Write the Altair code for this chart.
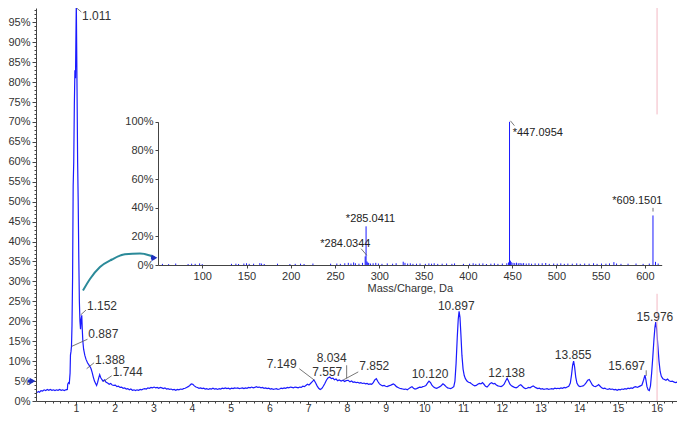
import altair as alt
import pandas as pd

# ---------------- chromatogram (retention time, % intensity) ----------------
rt = [0.00, 0.03, 0.06, 0.10, 0.14, 0.18, 0.22, 0.26, 0.30, 0.34, 0.38, 0.42, 0.46, 0.50, 0.54, 0.58, 0.62, 0.66, 0.70, 0.74, 0.78,
      0.79, 0.81, 0.83, 0.85, 0.86, 0.875, 0.887, 0.90, 0.915, 0.93, 0.945, 0.96, 0.975, 0.99, 1.011, 1.03, 1.045, 1.06, 1.075, 1.09,
      1.105, 1.12, 1.135, 1.152, 1.165, 1.18, 1.20, 1.23, 1.26, 1.30, 1.34, 1.388, 1.42, 1.45, 1.48, 1.51, 1.535, 1.56, 1.59, 1.615,
      1.64, 1.67, 1.70, 1.744, 1.78, 1.82, 1.86, 1.90, 1.94, 1.98, 2.02, 2.06, 2.10, 2.14, 2.18, 2.22, 2.26, 2.30, 2.34, 2.38, 2.42,
      2.46, 2.50, 2.54, 2.58, 2.62, 2.66, 2.70, 2.74, 2.78, 2.82, 2.86, 2.90, 2.94, 2.98, 3.02, 3.06, 3.10, 3.14, 3.18, 3.22, 3.26,
      3.30, 3.34, 3.38, 3.42, 3.46, 3.50, 3.54, 3.58, 3.62, 3.66, 3.70, 3.74, 3.78, 3.82, 3.86, 3.90, 3.94, 3.98, 4.02, 4.06, 4.10,
      4.14, 4.18, 4.22, 4.26, 4.30, 4.34, 4.38, 4.42, 4.46, 4.50, 4.54, 4.58, 4.62, 4.66, 4.70, 4.74, 4.78, 4.82, 4.86, 4.90, 4.94,
      4.98, 5.02, 5.06, 5.10, 5.14, 5.18, 5.22, 5.26, 5.30, 5.34, 5.38, 5.42, 5.46, 5.50, 5.54, 5.58, 5.62, 5.66, 5.70, 5.74, 5.78,
      5.82, 5.86, 5.90, 5.94, 5.98, 6.02, 6.06, 6.10, 6.14, 6.18, 6.22, 6.26, 6.30, 6.34, 6.38, 6.42, 6.46, 6.50, 6.54, 6.58, 6.62,
      6.66, 6.70, 6.74, 6.78, 6.82, 6.86, 6.90, 6.94, 6.98, 7.02, 7.06, 7.10, 7.149, 7.19, 7.23, 7.27, 7.31, 7.35, 7.39, 7.43, 7.47,
      7.51, 7.557, 7.60, 7.64, 7.68, 7.72, 7.76, 7.80, 7.852, 7.90, 7.94, 7.98, 8.034, 8.08, 8.12, 8.16, 8.20, 8.24, 8.28, 8.32, 8.36,
      8.40, 8.44, 8.48, 8.52, 8.56, 8.60, 8.64, 8.68, 8.72, 8.76, 8.80, 8.84, 8.88, 8.92, 8.96, 9.00, 9.04, 9.08, 9.12, 9.16, 9.20,
      9.24, 9.28, 9.32, 9.36, 9.40, 9.44, 9.48, 9.52, 9.56, 9.60, 9.64, 9.68, 9.72, 9.76, 9.80, 9.84, 9.88, 9.92, 9.96, 10.00, 10.04,
      10.08, 10.12, 10.16, 10.20, 10.24, 10.28, 10.32, 10.36, 10.40, 10.44, 10.48, 10.52, 10.56, 10.60, 10.64, 10.68, 10.72, 10.76,
      10.79, 10.82, 10.85, 10.875, 10.897, 10.92, 10.945, 10.97, 11.00, 11.03, 11.06, 11.10, 11.14, 11.18, 11.22, 11.26, 11.30, 11.34,
      11.38, 11.42, 11.46, 11.50, 11.54, 11.58, 11.62, 11.66, 11.70, 11.74, 11.78, 11.82, 11.86, 11.90, 11.94, 11.98, 12.02, 12.06,
      12.10, 12.138, 12.17, 12.21, 12.25, 12.29, 12.33, 12.37, 12.41, 12.45, 12.49, 12.53, 12.57, 12.61, 12.65, 12.69, 12.73, 12.77,
      12.81, 12.85, 12.89, 12.93, 12.97, 13.01, 13.05, 13.09, 13.13, 13.17, 13.21, 13.25, 13.29, 13.33, 13.37, 13.41, 13.45, 13.49,
      13.53, 13.57, 13.61, 13.65, 13.69, 13.73, 13.77, 13.80, 13.83, 13.855, 13.88, 13.91, 13.94, 13.98, 14.02, 14.06, 14.10, 14.14,
      14.18, 14.22, 14.26, 14.30, 14.34, 14.38, 14.42, 14.46, 14.50, 14.54, 14.58, 14.62, 14.66, 14.70, 14.74, 14.78, 14.82, 14.86,
      14.90, 14.94, 14.98, 15.02, 15.06, 15.10, 15.14, 15.18, 15.22, 15.26, 15.30, 15.34, 15.38, 15.42, 15.46, 15.50, 15.54, 15.58,
      15.62, 15.66, 15.697, 15.72, 15.75, 15.78, 15.81, 15.84, 15.87, 15.90, 15.93, 15.955, 15.976, 16.00, 16.03, 16.06, 16.09, 16.12,
      16.16, 16.20, 16.24, 16.28, 16.32, 16.36, 16.40, 16.44, 16.48, 16.52, 16.56, 16.60, 16.64, 16.68, 16.73]
intensity = [2.1, 2.4, 2.2, 2.6, 2.5, 2.8, 2.6, 2.9, 2.7, 2.9, 2.7, 2.8, 2.6, 2.8, 2.7, 2.9, 2.7, 2.8, 2.6, 2.8, 2.9,
             4.2, 4.6, 4.4, 7.0, 11.5, 12.5, 13.8, 19.0, 31.0, 54.0, 60.0, 74.0, 83.0, 81.0, 100.0, 78.0, 60.0, 50.0, 36.0, 25.0,
             20.0, 18.0, 20.5, 21.5, 18.0, 15.0, 13.0, 11.5, 10.5, 9.6, 9.0, 8.2, 7.2, 6.0, 5.0, 4.4, 3.9, 4.6, 5.8, 6.6,
             5.9, 5.4, 5.0, 5.3, 4.7, 4.5, 4.2, 4.4, 4.0, 3.9, 4.0, 3.6, 3.7, 3.4, 3.5, 3.2, 3.3, 3.0, 3.1, 2.8, 3.0,
             2.7, 2.8, 2.6, 2.8, 2.7, 2.9, 2.8, 3.0, 3.1, 3.0, 3.3, 3.2, 3.4, 3.3, 3.5, 3.3, 3.4, 3.2, 3.4, 3.3, 3.1,
             3.3, 3.0, 3.1, 2.9, 3.0, 2.8, 2.9, 2.7, 2.9, 2.8, 3.0, 2.9, 3.1, 3.2, 3.4, 3.6, 3.9, 4.3, 4.2, 3.8, 3.5,
             3.4, 3.2, 3.3, 3.1, 3.2, 3.0, 3.1, 2.9, 3.1, 3.0, 3.2, 3.0, 3.1, 2.9, 3.1, 3.0, 3.2, 3.1, 3.3, 3.1, 3.2,
             3.0, 3.2, 3.1, 3.3, 3.2, 3.3, 3.1, 3.2, 3.3, 3.1, 3.3, 3.2, 3.4, 3.3, 3.5, 3.3, 3.4, 3.6, 3.4, 3.5, 3.3,
             3.4, 3.2, 3.3, 3.1, 3.2, 3.0, 3.1, 2.9, 3.0, 3.1, 2.9, 3.0, 3.2, 3.1, 3.3, 3.2, 3.4, 3.3, 3.5, 3.4, 3.3,
             3.5, 3.4, 3.3, 3.5, 3.4, 3.7, 3.6, 3.9, 4.2, 4.0, 4.4, 4.8, 5.3, 4.6, 3.8, 3.2, 2.9, 3.1, 3.7, 4.4, 5.2,
             5.8, 6.0, 5.6, 5.7, 5.3, 5.5, 5.1, 5.3, 5.0, 5.2, 4.9, 5.1, 5.2, 4.8, 5.0, 4.7, 4.8, 4.6, 4.7, 4.5, 4.6,
             4.4, 4.5, 4.3, 4.4, 4.2, 4.3, 4.2, 4.6, 5.3, 5.6, 4.9, 4.3, 4.0, 3.8, 3.9, 3.7, 3.6, 3.8, 3.9, 4.1, 4.3,
             4.0, 3.6, 3.4, 3.2, 3.1, 3.0, 2.9, 3.0, 2.8, 3.1, 3.4, 3.6, 3.2, 3.0, 3.1, 3.3, 3.5, 3.4, 3.6, 3.7, 3.9,
             4.5, 5.0, 4.6, 3.9, 3.5, 3.3, 3.2, 3.4, 3.6, 3.9, 4.3, 4.0, 3.6, 3.3, 3.2, 3.1, 3.3, 3.6,
             5.0, 9.5, 16.0, 20.5, 22.5, 21.0, 16.5, 11.5, 8.0, 6.4, 5.6, 5.0, 4.7, 4.6, 4.3, 4.0, 3.8, 3.9,
             4.2, 4.4, 4.3, 4.6, 4.2, 3.7, 3.5, 3.9, 4.4, 4.6, 4.3, 4.4, 4.0, 3.8, 3.7, 3.6, 3.8, 4.2,
             5.0, 5.7, 5.1, 4.2, 3.8, 3.6, 3.4, 3.3, 3.5, 3.9, 4.1, 3.7, 3.3, 3.1, 3.2, 3.4, 3.3, 3.6,
             3.8, 3.5, 3.3, 3.1, 3.2, 3.0, 3.1, 2.9, 3.0, 3.1, 2.9, 3.0, 3.1, 3.0, 3.2, 3.1, 3.2, 3.1,
             3.3, 3.2, 3.4, 3.3, 3.5, 3.7, 4.5, 6.5, 9.0, 10.0, 8.6, 6.0, 4.5, 3.8, 3.6, 3.7, 3.8, 4.1,
             4.6, 5.2, 5.4, 4.7, 4.0, 3.7, 3.6, 3.8, 4.1, 3.7, 3.3, 3.1, 3.2, 3.0, 2.9, 3.1, 2.9, 3.0,
             2.8, 2.9, 2.7, 2.9, 2.8, 3.0, 2.9, 3.1, 3.0, 3.2, 3.1, 3.3, 3.2, 3.5, 3.6, 3.4, 3.6, 3.8,
             4.0, 5.2, 6.5, 5.4, 3.6, 2.8, 2.6, 3.8, 7.0, 11.0, 15.5, 18.5, 19.8, 18.0, 14.0, 10.0, 7.4, 6.2,
             5.6, 5.4, 5.2, 5.5, 5.1, 4.9, 5.0, 4.8, 4.6, 4.7, 4.4, 4.5, 4.2, 4.0, 3.8]

# peak annotations (text, anchor rt, anchor %)
peak_text = ["1.011", "1.152", "0.887", "1.388", "1.744", "7.149", "7.557", "8.034", "7.852",
             "10.120", "10.897", "12.138", "13.855", "15.697", "15.976"]
peak_text_t = [1.157, 1.286, 1.320, 1.493, 1.950, 5.927, 7.105, 7.219, 8.319,
               9.672, 10.35, 11.65, 13.37, 14.75, 15.48]
peak_text_v = [96.6, 23.75, 16.7, 10.3, 7.3, 9.35, 7.3, 10.8, 8.71,
               6.75, 23.75, 7.07, 11.56, 8.79, 20.98]
leader_t1 = [1.02, 1.123, 0.891, 1.278, 1.707, 7.15, 7.993, 7.906, 15.73]
leader_v1 = [98.6, 21.6, 13.7, 8.1, 4.86, 5.3, 5.67, 5.28, 6.3]
leader_t2 = [1.14, 1.26, 1.30, 1.47, 1.924, 6.77, 7.993, 8.293, 15.73]
leader_v2 = [97.6, 22.8, 15.5, 9.6, 6.33, 8.1, 8.96, 7.3, 7.7]

# current-time cursor (pink), hidden behind the inset in the middle
cursor_t = [16.01, 16.01]
cursor_v1 = [98.6, 26.9]
cursor_v2 = [71.9, 0.0]

# curved pointer from the peak to the inset spectrum
pointer_t = [1.183, 1.364, 1.622, 1.932, 2.267, 2.655, 2.913, 3.016]
pointer_v = [27.7, 30.6, 33.6, 35.5, 36.8, 37.0, 36.5, 36.1]

# threshold marker arrows
marker_t = [-0.24, -0.12]
marker_v = [5, 5]

# ---------------- inset mass spectrum ----------------
ms_mz = [55, 62, 70, 84, 88, 92, 97, 100, 133, 138, 141, 147, 150, 153, 158, 165, 167, 170, 185, 199, 205,
         211, 215, 225, 245, 252, 256, 261, 265, 268, 271, 273, 277, 281, 284.03, 285.04, 286.04, 287, 288, 290,
         293, 296, 299, 303, 309, 315, 319, 327, 329, 332, 335, 338, 342, 346, 352, 356, 359, 362, 366, 371,
         376, 382, 385, 395, 402, 406, 409, 413, 417, 421, 426, 430, 434, 439, 444, 446, 447.10, 448.10, 449,
         451, 453, 455, 457, 459, 461, 463, 466, 469, 472, 476, 480, 484, 488, 492, 497, 501, 505, 509, 513,
         518, 523, 527, 532, 537, 542, 546, 551, 556, 560, 565, 568, 573, 581, 590, 598, 605, 609.15, 612, 615]
ms_int = [0.8, 0.6, 1.0, 0.7, 0.9, 0.8, 1.1, 0.6, 0.8, 0.9, 0.7, 1.0, 1.2, 0.8, 0.9, 1.3, 1.0, 0.7, 0.9, 0.7, 0.8,
          0.9, 0.7, 1.0, 0.9, 1.0, 0.8, 1.2, 1.5, 1.0, 1.8, 1.2, 0.9, 1.5, 6.0, 27.0, 2.5, 1.8, 1.4, 1.0,
          1.2, 1.5, 1.0, 0.8, 1.1, 0.9, 1.2, 2.3, 1.5, 1.0, 1.2, 0.8, 0.9, 1.0, 0.8, 1.1, 0.9, 1.2, 0.8, 0.9,
          1.0, 0.8, 1.1, 0.8, 0.9, 1.2, 0.8, 1.0, 1.1, 0.7, 0.9, 1.1, 0.8, 1.0, 1.2, 1.8, 100.0, 3.0, 2.0,
          1.5, 1.3, 1.6, 1.2, 1.4, 1.1, 1.3, 1.0, 1.2, 0.9, 1.1, 1.0, 1.2, 1.4, 0.8, 1.0, 0.9, 1.1, 0.8, 1.0,
          0.9, 1.1, 0.8, 1.0, 0.9, 1.2, 0.8, 1.0, 0.9, 1.1, 2.0, 1.0, 0.8, 0.9, 1.0, 0.8, 1.0, 34.6, 2.2, 1.0]
ms_text = ["*285.0411", "*284.0344", "*447.0954", "*609.1501"]
ms_text_mz = [262.2, 233.3, 450.7, 563.2]
ms_text_v = [32.4, 14.8, 92.2, 44.7]
ms_lead_mz1 = [279.4, 448.1, 609.2]
ms_lead_v1 = [11.4, 100.7, 37.3]
ms_lead_mz2 = [285.8, 452.6, 609.2]
ms_lead_v2 = [6.8, 97.3, 39.9]
ms_marker_mz = [42, 46]
ms_marker_v = [5, 5]

x_ticks = list(range(1, 17))
x_minor = [k / 5 for k in range(1, 83) if k % 5 != 0]
y_ticks = list(range(0, 100, 5))
y_minor = [k for k in range(1, 99) if k % 5 != 0]
ms_x_ticks = list(range(100, 601, 50))
ms_y_ticks = [0, 20, 40, 60, 80, 100]

# ---------------- geometry (page is 685x422 with an 8px margin) ----------------
W, H = 641, 393
INSET_Y0, INSET_Y1 = 257.0, 113.8     # inset 0% / 100% (plot pixels)
INSET_X0, INSET_X1 = 122, 625.7       # inset m/z 50 / 619 (plot pixels)
FONT = "Liberation Sans"
NARROW = "Liberation Sans Narrow, Liberation Sans"
BLUE = "#1a1aff"
AXC = "#444444"


def mx():
    return alt.Scale(domain=[-0.03, 16.525], nice=False, zero=False)


def my():
    return alt.Scale(domain=[0, 98.6], nice=False, zero=False)


def ix():
    return alt.Scale(domain=[50, 619], range=[INSET_X0, INSET_X1], nice=False, zero=False)


def iy():
    return alt.Scale(domain=[0, 100], range=[INSET_Y0, INSET_Y1], nice=False, zero=False)


df_line = pd.DataFrame({"t": rt, "v": intensity})

x_axis = alt.Axis(orient="bottom", values=x_ticks, format="d", title=None, grid=False,
                  tickSize=3, labelPadding=-1, labelFontSize=10.5, labelFont=FONT, labelColor="#333",
                  domainColor=AXC, tickColor=AXC, labelFlush=False, labelOverlap=False)
y_axis = alt.Axis(orient="left", values=y_ticks, labelExpr="datum.value + '%'", title=None, grid=False,
                  tickSize=4, labelPadding=2, labelFontSize=11, labelFont=FONT, labelColor="#333",
                  domainColor=AXC, tickColor=AXC, labelOverlap=False)
line = alt.Chart(df_line).mark_line(color=BLUE, strokeWidth=1.2, clip=True).encode(
    x=alt.X("t:Q", scale=mx(), axis=x_axis),
    y=alt.Y("v:Q", scale=my(), axis=y_axis),
    order="t:Q",
)

df_minor = pd.DataFrame({"t": [1.0], "v": [5.0]})
minor = alt.Chart(df_minor).mark_point(opacity=0).encode(
    x=alt.X("t:Q", scale=mx(), axis=alt.Axis(orient="bottom", values=x_minor, labels=False, domain=False,
                                             title=None, grid=False, tickSize=2, tickColor=AXC)),
    y=alt.Y("v:Q", scale=my(), axis=alt.Axis(orient="left", values=y_minor, labels=False, domain=False,
                                             title=None, grid=False, tickSize=2, tickColor=AXC)),
)

df_cursor = pd.DataFrame({"t": cursor_t, "v1": cursor_v1, "v2": cursor_v2})
cursor = alt.Chart(df_cursor).mark_rule(color="#f3b9c3", strokeWidth=1).encode(
    x=alt.X("t:Q", scale=mx(), axis=None), y=alt.Y("v1:Q", scale=my(), axis=None), y2="v2:Q")

df_lead = pd.DataFrame({"t1": leader_t1, "v1": leader_v1, "t2": leader_t2, "v2": leader_v2})
leaders = alt.Chart(df_lead).mark_rule(color="#555555", strokeWidth=0.8).encode(
    x=alt.X("t1:Q", scale=mx(), axis=None), y=alt.Y("v1:Q", scale=my(), axis=None), x2="t2:Q", y2="v2:Q")

df_ptext = pd.DataFrame({"t": peak_text_t, "v": peak_text_v, "label": peak_text})
ptext = alt.Chart(df_ptext).mark_text(align="left", baseline="middle", font=FONT, fontSize=12,
                                      color="#333333").encode(
    x=alt.X("t:Q", scale=mx(), axis=None), y=alt.Y("v:Q", scale=my(), axis=None), text="label:N")

df_ptr = pd.DataFrame({"t": pointer_t, "v": pointer_v, "o": list(range(len(pointer_t)))})
pointer = alt.Chart(df_ptr).mark_line(color="#2b8a99", strokeWidth=2, interpolate="monotone").encode(
    x=alt.X("t:Q", scale=mx(), axis=None), y=alt.Y("v:Q", scale=my(), axis=None), order="o:Q")

df_mk = pd.DataFrame({"t": marker_t[:1], "v": marker_v[:1], "t2": marker_t[1:]})
mk_rule = alt.Chart(df_mk).mark_rule(color="#1f2fbf", strokeWidth=3).encode(
    x=alt.X("t:Q", scale=mx(), axis=None), x2="t2:Q", y=alt.Y("v:Q", scale=my(), axis=None))
mk_head = alt.Chart(df_mk).mark_point(shape="triangle-right", filled=True, color="#1f2fbf", size=45,
                                      opacity=1).encode(
    x=alt.X("t2:Q", scale=mx(), axis=None), y=alt.Y("v:Q", scale=my(), axis=None))

# ---------------- inset ----------------
df_ms = pd.DataFrame({"mz": ms_mz, "i": ms_int})
ms_x_axis = alt.Axis(orient="bottom", offset=-(H - INSET_Y0), values=ms_x_ticks, title="Mass/Charge, Da",
                     titleFont=NARROW, titleFontSize=11, titleFontWeight="normal", titleColor="#333",
                     titlePadding=1, grid=False, tickSize=3, labelPadding=2, labelFontSize=11,
                     labelFont=NARROW, labelColor="#333", domainColor=AXC, tickColor=AXC,
                     labelFlush=False, labelOverlap=False)
ms_y_axis = alt.Axis(orient="left", offset=-INSET_X0, values=ms_y_ticks, labelExpr="datum.value + '%'",
                     title=None, grid=False, tickSize=3, labelPadding=2, labelFontSize=11,
                     labelFont=NARROW, labelColor="#333", domainColor=AXC, tickColor=AXC,
                     labelOverlap=False)
stems = alt.Chart(df_ms).mark_rule(color=BLUE, strokeWidth=1).encode(
    x=alt.X("mz:Q", scale=ix(), axis=ms_x_axis),
    y=alt.Y("i:Q", scale=iy(), axis=ms_y_axis),
    y2=alt.datum(0),
)

df_mst = pd.DataFrame({"mz": ms_text_mz, "v": ms_text_v, "label": ms_text})
ms_txt = alt.Chart(df_mst).mark_text(align="left", baseline="middle", font=NARROW, fontSize=11,
                                     color="#222222").encode(
    x=alt.X("mz:Q", scale=ix(), axis=None), y=alt.Y("v:Q", scale=iy(), axis=None), text="label:N")

df_msl = pd.DataFrame({"m1": ms_lead_mz1, "v1": ms_lead_v1, "m2": ms_lead_mz2, "v2": ms_lead_v2})
ms_lead = alt.Chart(df_msl).mark_rule(color="#555555", strokeWidth=0.8).encode(
    x=alt.X("m1:Q", scale=ix(), axis=None), y=alt.Y("v1:Q", scale=iy(), axis=None), x2="m2:Q", y2="v2:Q")

df_msm = pd.DataFrame({"m": ms_marker_mz[:1], "m2": ms_marker_mz[1:], "v": ms_marker_v[:1]})
ms_mk_rule = alt.Chart(df_msm).mark_rule(color="#1f2fbf", strokeWidth=3).encode(
    x=alt.X("m:Q", scale=ix(), axis=None), x2="m2:Q", y=alt.Y("v:Q", scale=iy(), axis=None))
ms_mk_head = alt.Chart(df_msm).mark_point(shape="triangle-right", filled=True, color="#1f2fbf", size=45,
                                          opacity=1).encode(
    x=alt.X("m2:Q", scale=ix(), axis=None), y=alt.Y("v:Q", scale=iy(), axis=None))

chart = alt.layer(
    line, minor, cursor, leaders, ptext, pointer, mk_rule, mk_head,
    stems, ms_txt, ms_lead, ms_mk_rule, ms_mk_head,
).resolve_scale(x="independent", y="independent").properties(
    width=W, height=H,
    autosize=alt.AutoSizeParams(type="none"),
    padding={"left": 28, "top": 0, "right": 0, "bottom": 13},
).configure_view(stroke=None)

chart.save("out.html", embed_options={"renderer": "svg", "actions": False})
